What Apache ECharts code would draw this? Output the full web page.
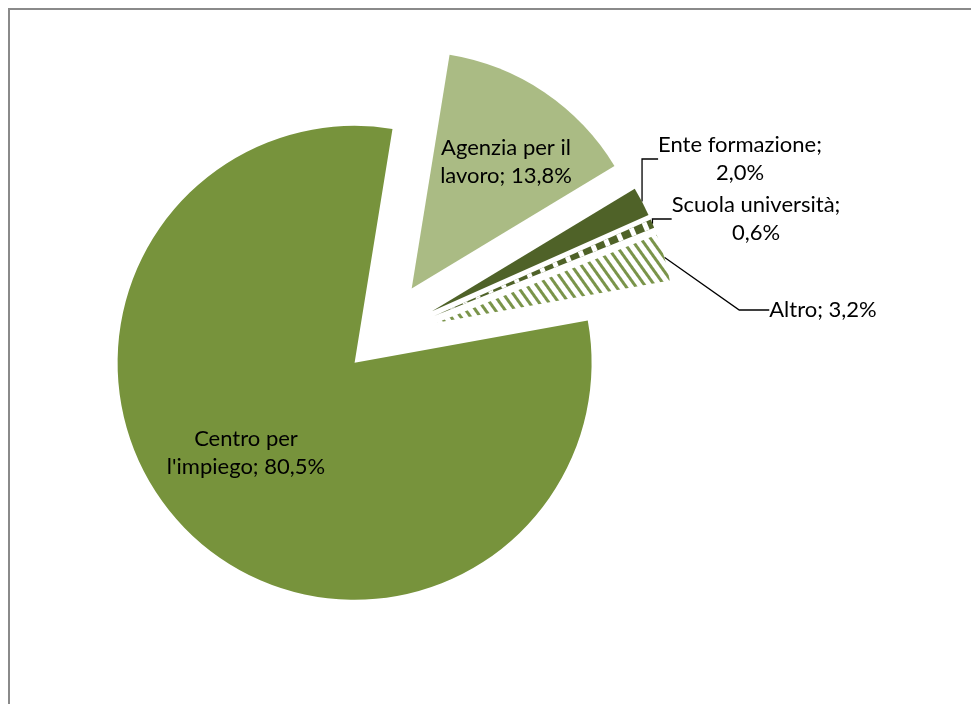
<!DOCTYPE html>
<html>
<head>
<meta charset="utf-8">
<script src="https://cdn.jsdelivr.net/npm/echarts@6/dist/echarts.min.js"></script>
<style>
  html, body { margin: 0; padding: 0; background: #fff; }
  #chart { width: 971px; height: 704px; }
</style>
</head>
<body>
<div id="chart"></div>
<script>
// dati (percentuali)
const categories = ['Agenzia per il lavoro', 'Ente formazione', 'Scuola università', 'Altro', "Centro per l'impiego"]
const values = [13.8, 2.0, 0.6, 3.2, 80.5]

// stile per fetta
const colors = ['#aabb84', '#4f6228', '#4f6228', '#ffffff', '#77933c']
const explodeDist = [62, 62, 62, 62, 32] // distanza di esplosione in px
const insideLabel = [true, false, false, false, true]
// parola dopo cui andare a capo (-1 = dopo il punto e virgola)
const breakAfter = [3, -1, -1, null, 2]
// centro delle etichette
const labelPos = [[506, 162], [740, 159], [756, 219], [823, 310], [246, 453]]

const cx = 377
const cy = 340
const R = 237
const startDeg = 9.2 // gradi in senso orario dalle ore 12

function fmtPct (v) {
  return v.toFixed(1).replace('.', ',') + '%'
}

function labelText (i) {
  const name = categories[i]
  const pct = fmtPct(values[i])
  const b = breakAfter[i]
  if (b === null) return name + '; ' + pct
  if (b === -1) return name + ';\n' + pct
  const words = name.split(' ')
  return words.slice(0, b).join(' ') + '\n' + words.slice(b).join(' ') + '; ' + pct
}

const decals = [
  null,
  null,
  { symbol: 'rect', symbolSize: 1, dashArrayX: [[5, 9]], dashArrayY: [1, 0], rotation: -0.40, color: '#ffffff' },
  { symbol: 'rect', symbolSize: 1, dashArrayX: [1, 0], dashArrayY: [3, 5], rotation: 0.95, color: '#7a944a' },
  null
]

// angolo medio di ogni fetta (per lo spostamento delle fette esplose)
const total = values.reduce((a, b) => a + b, 0)
function midAngle (k) {
  let acc = 0
  for (let i = 0; i < k; i++) acc += values[i]
  return (startDeg + (acc + values[k] / 2) / total * 360) * Math.PI / 180
}

function makeSeries (k) {
  const a = midAngle(k)
  const dx = explodeDist[k] * Math.sin(a)
  const dy = -explodeDist[k] * Math.cos(a)
  return {
    type: 'pie',
    center: [cx + dx, cy + dy],
    radius: R,
    startAngle: 90 - startDeg,
    clockwise: true,
    avoidLabelOverlap: false,
    emphasis: { disabled: true },
    silent: true,
    label: {
      color: '#000',
      fontFamily: 'Lato',
      fontSize: 22,
      lineHeight: 28,
      align: 'center'
    },
    labelLine: {
      lineStyle: { color: '#000', width: 1.3 }
    },
    labelLayout: function (params) {
      const p = labelPos[params.dataIndex]
      return { x: p[0], y: p[1], align: 'center', verticalAlign: 'middle' }
    },
    data: categories.map((name, i) => {
      const own = i === k
      const item = {
        name: name,
        value: values[i],
        itemStyle: { color: colors[i], opacity: own ? 1 : 0 },
        label: {
          show: own,
          position: insideLabel[i] ? 'inside' : 'outside',
          formatter: () => labelText(i)
        },
        labelLine: { show: own && !insideLabel[i] }
      }
      if (own && decals[i]) item.itemStyle.decal = decals[i]
      return item
    })
  }
}

let myChart = echarts.init(document.getElementById('chart'))
myChart.setOption({
  animation: false,
  graphic: [
    {
      type: 'rect',
      shape: { x: 9, y: 9, width: 1100, height: 1000 },
      style: { fill: null, stroke: '#8a8a8a', lineWidth: 2 },
      silent: true
    }
  ],
  series: categories.map((c, k) => makeSeries(k))
})
</script>
</body>
</html>
